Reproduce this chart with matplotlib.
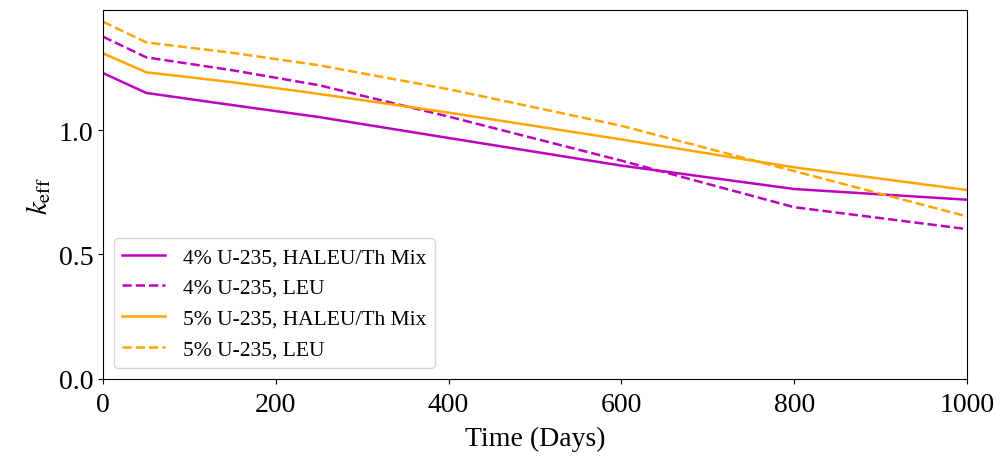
import numpy as np
import matplotlib
matplotlib.use('Agg')
import matplotlib.pyplot as plt

plt.rcParams['font.family'] = 'serif'
plt.rcParams['font.serif'] = ['Liberation Serif', 'DejaVu Serif']
plt.rcParams['mathtext.fontset'] = 'stix'

# burnup steps (days) and k_eff for each fuel case
dias = [0, 50, 150, 250, 400, 600, 800, 1000]
k_4_haleu = [1.229, 1.149, 1.100, 1.052, 0.968, 0.857, 0.763, 0.720]
k_4_leu = [1.375, 1.292, 1.240, 1.180, 1.054, 0.877, 0.690, 0.602]
k_5_haleu = [1.308, 1.232, 1.192, 1.145, 1.070, 0.962, 0.850, 0.759]
k_5_leu = [1.435, 1.352, 1.310, 1.260, 1.164, 1.017, 0.835, 0.653]

casos = [(k_4_haleu, 'm', '-', '4% U-235, HALEU/Th Mix'),
         (k_4_leu, 'm', '--', '4% U-235, LEU'),
         (k_5_haleu, 'orange', '-', '5% U-235, HALEU/Th Mix'),
         (k_5_leu, 'orange', '--', '5% U-235, LEU')]

fig = plt.figure(figsize=(10.02, 4.6), dpi=100)
ax = fig.add_axes([0.1028, 0.174, 0.8623, 0.802])
for k, cor, estilo, rotulo in casos:
    ax.plot(dias, k, estilo, color=cor, lw=1.8, label=rotulo)

ax.set_xlim(0, 1000)
ax.set_ylim(0, 1.482)
ax.set_yticks([0.0, 0.5, 1.0])
ax.tick_params(labelsize=20)
ax.tick_params(axis='x', pad=6)
ax.set_xlabel('Time (Days)', fontsize=20, labelpad=6)
ax.set_ylabel(r'$k_{\mathrm{eff}}$', fontsize=21)
ax.legend(loc='lower left', fontsize=15.5)
fig.savefig('out.png')
